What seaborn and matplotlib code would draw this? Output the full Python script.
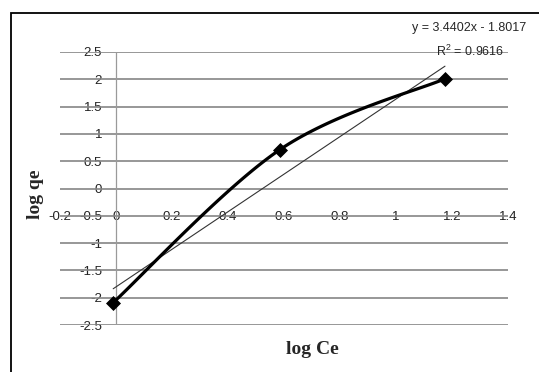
import numpy as np
import pandas as pd
import matplotlib
matplotlib.use('Agg')
import matplotlib.pyplot as plt
import seaborn as sns
from matplotlib.patches import Rectangle

log_ce = [-0.01, 0.586, 1.175]
log_qe = [-2.09, 0.714, 2.01]
slope = 3.4402
intercept = -1.8017
eq_text = 'y = 3.4402x - 1.8017'
r2_text = 'R$^2$ = 0.9616'
x_ticks = [-0.2, 0, 0.2, 0.4, 0.6, 0.8, 1, 1.2, 1.4]
y_ticks = [-2.5, -2, -1.5, -1, -0.5, 0, 0.5, 1, 1.5, 2, 2.5]

sns.set_style('white')
plt.rcParams['font.family'] = ['Liberation Sans Narrow', 'Liberation Sans', 'DejaVu Sans']
plt.rcParams['mathtext.fontset'] = 'custom'
plt.rcParams['mathtext.rm'] = 'Liberation Sans'

df = pd.DataFrame({'log_ce': log_ce, 'log_qe': log_qe})

# excel-like smooth line (catmull-rom bezier)
pts = np.array([log_ce, log_qe]).T
ext = np.vstack([pts[0], pts, pts[-1]])
curve = []
for i in range(1, len(ext) - 2):
    p0, p1, p2, p3 = ext[i - 1], ext[i], ext[i + 1], ext[i + 2]
    c1 = p1 + (p2 - p0) / 6
    c2 = p2 - (p3 - p1) / 6
    for t in np.linspace(0, 1, 40):
        b = (1 - t) ** 3 * p1 + 3 * (1 - t) ** 2 * t * c1 + 3 * (1 - t) * t ** 2 * c2 + t ** 3 * p2
        curve.append(b)
curve = pd.DataFrame(curve, columns=['x', 'y'])

fit = pd.DataFrame({'x': [min(log_ce), max(log_ce)]})
fit['y'] = slope * fit['x'] + intercept

fig = plt.figure(figsize=(5.39, 3.72), dpi=100)
ax = fig.add_axes([60 / 539, 1 - 325 / 372, 448 / 539, 273 / 372])

for yv in y_ticks:
    ax.axhline(yv, color='#858585', lw=1.2, zorder=1)
ax.plot([0, 0], [-2.5, 2.5], color='#9a9a9a', lw=0.9, zorder=1)

sns.lineplot(data=fit, x='x', y='y', ax=ax, color='#333333', lw=0.8, zorder=2)
sns.lineplot(data=curve, x='x', y='y', ax=ax, sort=False, estimator=None,
             color='black', lw=2.3, zorder=3)
sns.scatterplot(data=df, x='log_ce', y='log_qe', ax=ax, marker='D', s=50,
                color='black', edgecolor='black', zorder=4)

ax.set_xlim(-0.2, 1.4)
ax.set_ylim(-2.5, 2.5)
# axes cross at zero like the excel chart
ax.spines['left'].set_position(('data', 0))
ax.spines['bottom'].set_position(('data', 0))
for s in ax.spines.values():
    s.set_color('none')

ax.set_yticks(y_ticks)
ax.set_yticklabels([f'{v:g}' for v in y_ticks])
ax.set_xticks(x_ticks)
ax.set_xticklabels([f'{v:g}' for v in x_ticks])
ax.tick_params(length=0, labelsize=9.5, colors='#222222')
ax.tick_params(axis='y', pad=10)
ax.tick_params(axis='x', pad=16)
ax.set_xlabel('')
ax.set_ylabel('')

fig.text(35 / 539, 1 - 194 / 372, 'log qe', rotation=90, ha='center', va='center',
         fontsize=14, fontweight='bold', family='Liberation Serif')
fig.text(312 / 539, 1 - 350 / 372, 'log Ce', ha='center', va='center',
         fontsize=14, fontweight='bold', family='Liberation Serif')
fig.text(469 / 539, 1 - 28 / 372, eq_text, ha='center', va='center', fontsize=9)
fig.text(470 / 539, 1 - 51 / 372, r2_text, ha='center', va='center', fontsize=9)

fig.patches.append(Rectangle((11 / 539, -0.05), 1.1, 1 - 13 / 372 + 0.05,
                             transform=fig.transFigure, fill=False, ec='black', lw=1.3))

fig.savefig('out.png', dpi=100)
